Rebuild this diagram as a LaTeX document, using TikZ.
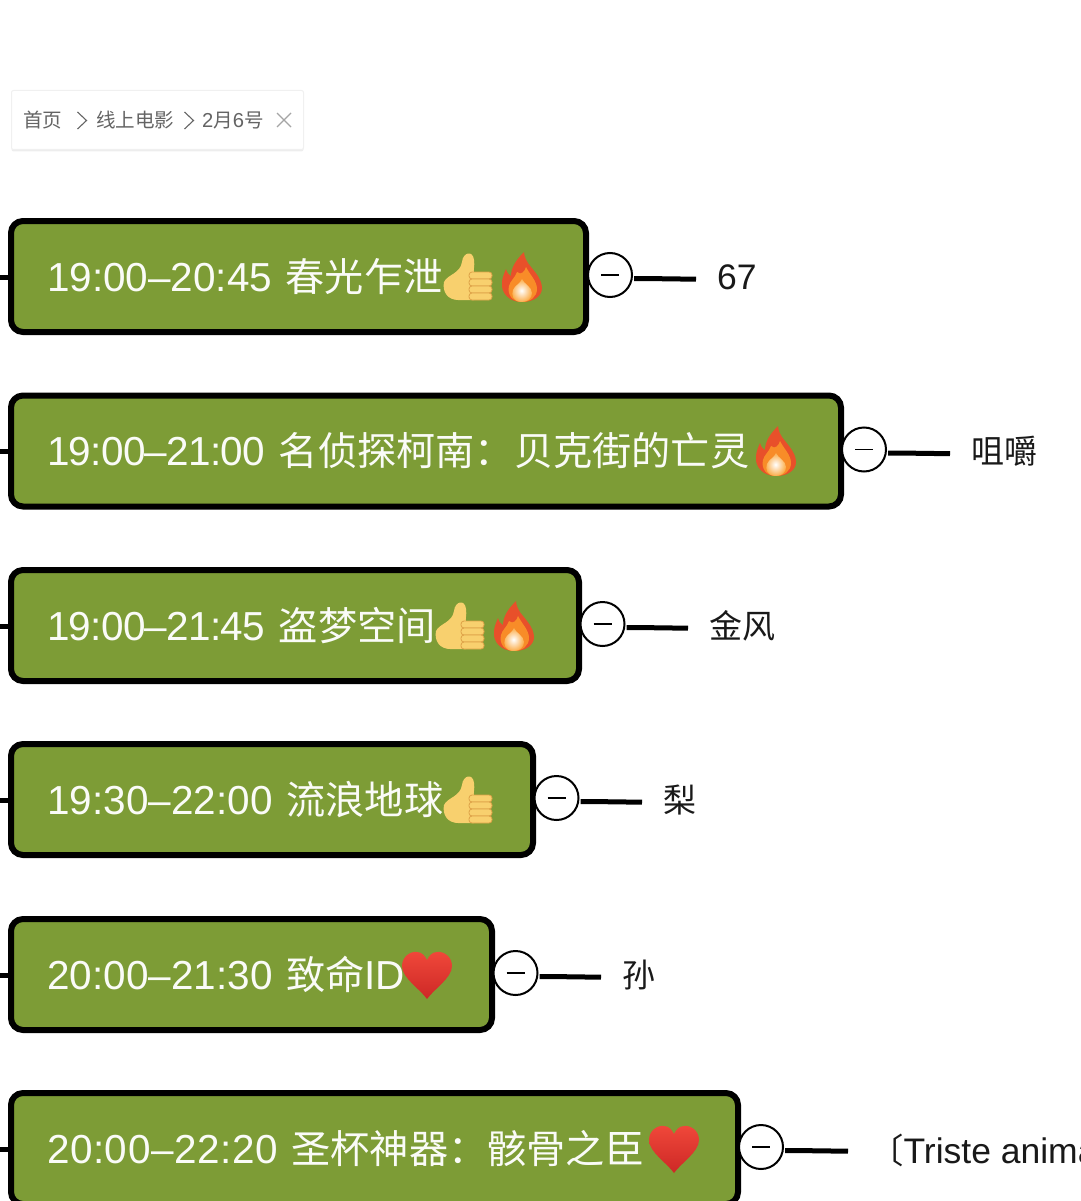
\documentclass[tikz,border=0pt]{standalone}
\usepackage{fontspec}
\setmainfont{Liberation Sans}
\newfontfamily\cjk[Scale=0.968]{Noto Sans CJK SC}
\newcommand{\timespan}[2]{{\addfontfeature{LetterSpace=#1}#2}}
\usepackage{tikz}
\usetikzlibrary{shadows}
\definecolor{mossgreen}{RGB}{125,156,54}
\definecolor{crumbgray}{RGB}{100,100,100}
\definecolor{closegray}{RGB}{165,165,165}
\definecolor{thumbyellow}{RGB}{248,208,110}
\definecolor{thumbline}{RGB}{222,162,72}
\definecolor{flamered}{RGB}{232,80,42}
\definecolor{flameorange}{RGB}{248,140,40}
\definecolor{flameglow}{RGB}{255,220,120}
\definecolor{heartred}{RGB}{240,72,58}
\definecolor{heartdark}{RGB}{205,40,38}
\tikzset{
    topicbox/.style={draw=black, line width=6pt, fill=mossgreen, rounded corners=12pt, anchor=north west, outer sep=0pt,
        minimum height=111pt, inner xsep=36pt, inner ysep=0pt, align=left, text=white!96!mossgreen,
        font=\fontsize{40.5}{44}\selectfont},
    minusbtn/.style={draw=black, line width=2pt, fill=white, circle, minimum size=44pt, inner sep=0pt, outer sep=0pt,
        path picture={\draw[line width=1.6pt] (path picture bounding box.center) ++(-9,0) -- ++(18,0);}},
    leaflabel/.style={anchor=west, inner sep=0pt, font=\fontsize{34.1}{38}\selectfont, text=black!90},
    latinleaf/.style={leaflabel, font=\fontsize{35.5}{38}\selectfont},
    crumb/.style={anchor=west, inner sep=0pt, text=crumbgray, font=\fontsize{20.2}{22}\selectfont},
    chevron/.style={draw=crumbgray, line width=1.1pt},
    stub/.style={line width=5pt},
    twig/.style={line width=5pt, shorten >=21pt},
    thumb/.pic={
        \fill[thumbyellow] (-24,6) .. controls (-20,-2) and (-8,-2) .. (-6,-14) .. controls (-5,-24) and (5,-26) .. (6,-16)
            .. controls (7,-10) and (5,-6) .. (6,-3) -- (6,24) -- (-10,24) .. controls (-20,24) and (-26,16) .. (-24,6) -- cycle;
        \foreach \fy in {-4,3,10,17} {
            \draw[thumbline, fill=thumbyellow, line width=.8pt, rounded corners=3pt] (1,\fy) rectangle (24,\fy+7);
        }
    },
    flame/.pic={
        \fill[flamered] (0,25) .. controls (-14,25) and (-21,15) .. (-20,6) .. controls (-20,1) and (-18,-3) .. (-16,-8)
            .. controls (-15,-4) and (-13,-2) .. (-11,-1) .. controls (-11,-10) and (-5,-18) .. (2,-25)
            .. controls (3,-15) and (8,-12) .. (13,-5) .. controls (18,1) and (20,7) .. (20,11)
            .. controls (20,19) and (12,25) .. (0,25) -- cycle;
        \fill[flameorange] (0,25) .. controls (-10,25) and (-15,17) .. (-13,9) .. controls (-12,4) and (-7,1) .. (-5,-5)
            .. controls (-1,-1) and (3,-6) .. (4,-10) .. controls (8,-2) and (15,4) .. (15,12)
            .. controls (15,20) and (8,25) .. (0,25) -- cycle;
        \shade[inner color=white, outer color=flameorange!60!flameglow] (0,25) .. controls (-9,25) and (-11,18) .. (-9,13)
            .. controls (-7,8) and (-2,7) .. (0,2) .. controls (2,7) and (10,10) .. (10,16) .. controls (10,21) and (6,25) .. (0,25) -- cycle;
    },
    heartmark/.pic={
        \shade[top color=heartred, bottom color=heartdark] (0,24) .. controls (-7,14) and (-25,3) .. (-25,-9)
            .. controls (-25,-18) and (-17,-24) .. (-10,-23) .. controls (-5,-23) and (-2,-19) .. (0,-15)
            .. controls (2,-19) and (5,-23) .. (10,-23) .. controls (17,-24) and (25,-18) .. (25,-9)
            .. controls (25,3) and (7,14) .. (0,24) -- cycle;
    },
}

\begin{document}
\begin{tikzpicture}[x=1pt, y=-1pt]
    \useasboundingbox (0,0) rectangle (1080,1201);
    \clip (0,0) rectangle (1080,1201);

    % breadcrumb tag
    \node[fill=white, drop shadow={shadow xshift=0pt, shadow yshift=-2pt, opacity=.14}, draw=black!6, line width=1pt,
        rounded corners=2pt, minimum width=292pt, minimum height=59pt, anchor=north west, inner sep=0pt] (tag) at (11,90) {};
    \node[crumb] (home) at (23,120) {\cjk 首页};
    \node[crumb] (online) at (96,120) {\cjk 线上电影};
    \node[crumb] (date) at (202,120) {2{\cjk 月}6{\cjk 号}};
    \draw[chevron] (77.5,112) -- (86.5,120.5) -- (77.5,129);
    \draw[chevron] (184.5,112) -- (193.5,120.5) -- (184.5,129);
    \draw[closegray, line width=1.1pt] (277,113) -- (291,127) (291,113) -- (277,127);

    % topics
    \node[topicbox, minimum width=575pt, text width=503pt] (movie1) at (11,221) {19:00–20:45 {\cjk 春光乍泄}};
    \node[topicbox, minimum width=830pt, text width=758pt] (movie2) at (11,395.5) {\timespan{-1.7}{19:00–21:00} {\cjk 名侦探柯南：贝克街的亡灵}};
    \node[topicbox, minimum width=568pt, text width=496pt] (movie3) at (11,570) {\timespan{-1.7}{19:00–21:45} {\cjk 盗梦空间}};
    \node[topicbox, minimum width=522pt, text width=450pt] (movie4) at (11,744) {\timespan{0.2}{19:30–22:00} {\cjk 流浪地球}};
    \node[topicbox, minimum width=481pt, text width=409pt] (movie5) at (11,919) {\timespan{0.2}{20:00–21:30} {\cjk 致命}\timespan{-2}{ID}};
    \node[topicbox, minimum width=727pt, text width=655pt] (movie6) at (11,1093) {\timespan{1.4}{20:00–22:20} {\cjk 圣杯神器：骸骨之臣}};

    % emoji
    \pic at (468,276) {thumb};
    \pic at (522,277) {flame};
    \pic at (776,451) {flame};
    \pic at (460,625) {thumb};
    \pic at (514,626) {flame};
    \pic at (468,799) {thumb};
    \pic at (427,975) {heartmark};
    \pic at (674,1149) {heartmark};

    % left stubs
    \coordinate (edge1) at (0,277);
    \coordinate (edge2) at (0,451.5);
    \coordinate (edge3) at (0,626);
    \coordinate (edge4) at (0,800.5);
    \coordinate (edge5) at (0,975);
    \coordinate (edge6) at (0,1149.5);
    \draw[stub] (edge1) -- (movie1.west |- edge1);
    \draw[stub] (edge2) -- (movie2.west |- edge2);
    \draw[stub] (edge3) -- (movie3.west |- edge3);
    \draw[stub] (edge4) -- (movie4.west |- edge4);
    \draw[stub] (edge5) -- (movie5.west |- edge5);
    \draw[stub] (edge6) -- (movie6.west |- edge6);

    % collapse buttons
    \node[minusbtn] (btn1) at (610,275) {};
    \node[minusbtn] (btn2) at (864,449.5) {};
    \node[minusbtn] (btn3) at (602.5,624) {};
    \node[minusbtn] (btn4) at (556.5,798) {};
    \node[minusbtn] (btn5) at (515.5,973) {};
    \node[minusbtn] (btn6) at (761,1147) {};

    % leaves
    \node[latinleaf] (leaf1) at (717,277) {67};
    \node[leaflabel] (leaf2) at (971,451) {\cjk 咀嚼};
    \node[leaflabel] (leaf3) at (709,626) {\cjk 金风};
    \node[leaflabel] (leaf4) at (663,800) {\cjk 梨};
    \node[leaflabel] (leaf5) at (622,975) {\cjk 孙};
    \node[latinleaf] (leaf6) at (869,1150) {{\cjk 〔}Triste anima};

    \draw[twig] ([xshift=2pt,yshift=-3.5pt]btn1.east) -- ++(10,0) -- ([yshift=-4.5pt]btn1.east -| leaf1.west);
    \draw[twig] ([xshift=2pt,yshift=-3.5pt]btn2.east) -- ++(10,0) -- ([yshift=-4.5pt]btn2.east -| leaf2.west);
    \draw[twig] ([xshift=2pt,yshift=-3.5pt]btn3.east) -- ++(10,0) -- ([yshift=-4.5pt]btn3.east -| leaf3.west);
    \draw[twig] ([xshift=2pt,yshift=-3.5pt]btn4.east) -- ++(10,0) -- ([yshift=-4.5pt]btn4.east -| leaf4.west);
    \draw[twig] ([xshift=2pt,yshift=-3.5pt]btn5.east) -- ++(10,0) -- ([yshift=-4.5pt]btn5.east -| leaf5.west);
    \draw[twig] ([xshift=2pt,yshift=-3.5pt]btn6.east) -- ++(10,0) -- ([yshift=-4.5pt]btn6.east -| leaf6.west);
\end{tikzpicture}
\end{document}
